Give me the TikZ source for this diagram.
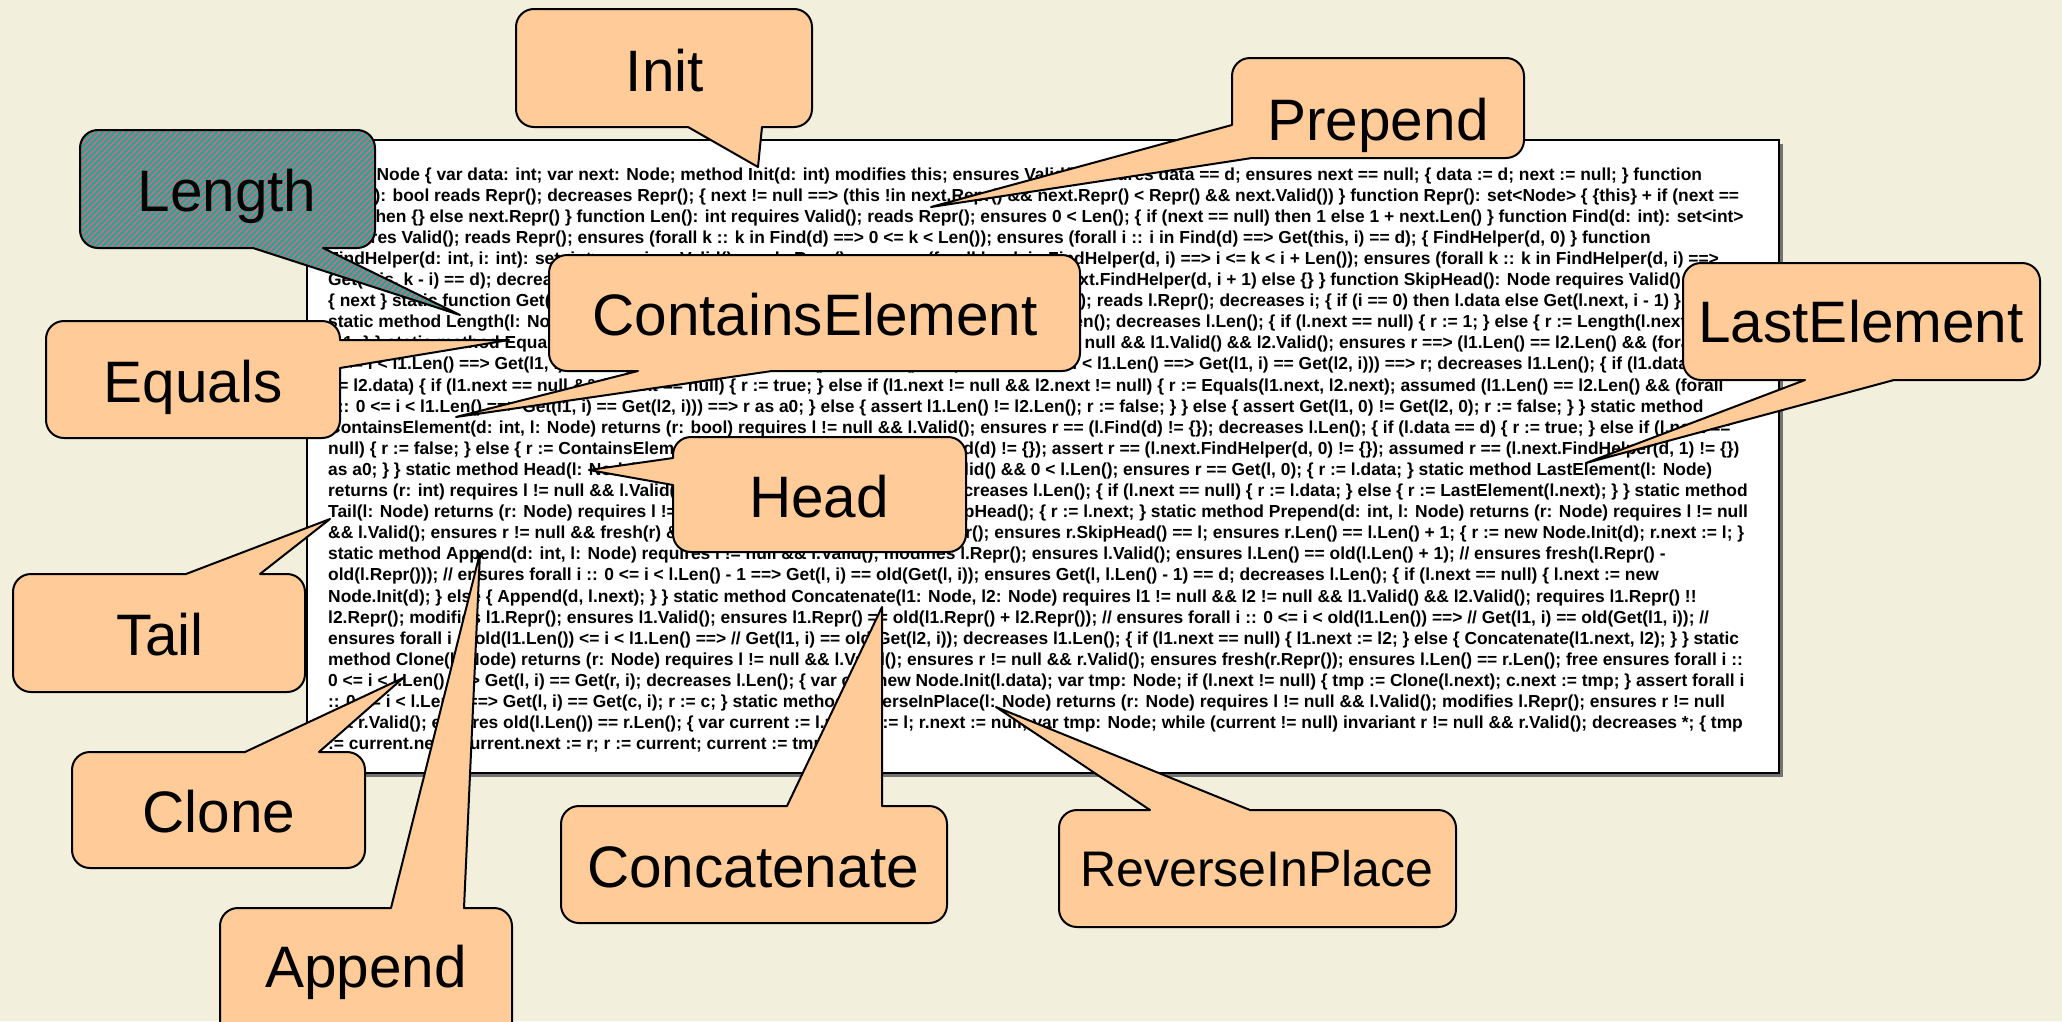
\documentclass[tikz,border=0pt]{standalone}
\usepackage{fontspec}
\setmainfont{Liberation Sans}
\newfontfamily\codefont{Liberation Sans}[UprightFont={* Bold},BoldFont={* Bold}]
\definecolor{bgcol}{RGB}{242,240,220}
\definecolor{peach}{RGB}{255,204,153}
\definecolor{hpink}{RGB}{226,96,128}
\definecolor{hteal}{RGB}{20,175,150}
\tikzset{
  calloutshape/.style={fill=peach,draw=black,line width=2pt,line join=round},
  hatchbase/.style={fill=hteal},
  stripe/.style={draw=hpink,line width=1.6pt},
  outlineonly/.style={draw=black,line width=2pt,line join=round},
  calloutlabel/.style={anchor=base,inner sep=0pt,font=\fontsize{58.5}{60}\selectfont},
  codeline/.style={anchor=base west,inner sep=0pt,font=\fontsize{17.4}{21}\codefont}
}
% #1 style, #2 L, #3 T, #4 R, #5 B, #6 top insert, #7 right insert, #8 bottom insert, #9 left insert
\newcommand\callout[9]{%
  \path[#1] (#2+18,#3) #6 -- (#4-18,#3) .. controls (#4-8,#3) and (#4,#3+8) .. (#4,#3+18) #7
    -- (#4,#5-18) .. controls (#4,#5-8) and (#4-8,#5) .. (#4-18,#5) #8
    -- (#2+18,#5) .. controls (#2+8,#5) and (#2,#5-8) .. (#2,#5-18) #9
    -- (#2,#3+18) .. controls (#2,#3+8) and (#2+8,#3) .. (#2+18,#3) -- cycle;}
\begin{document}
\begin{tikzpicture}[x=1pt,y=-1pt]
\useasboundingbox (0,0) rectangle (2062,1021);
\fill[bgcol] (0,0) rectangle (2062,1021);
% text box
\fill[black!55] (311,144) rectangle (1783,777);
\draw[fill=white,line width=1.5pt] (307,140) rectangle (1779,773);
\node[codeline] (l1) at (328,180.0) {class Node \{ var data: int; var next: Node; method Init(d: int) modifies this; ensures Valid(); ensures data == d; ensures next == null; \{ data := d; next := null; \} function};
\node[codeline] (l2) at (328,201.1) {Valid(): bool reads Repr(); decreases Repr(); \{ next != null ==> (this !in next.Repr() \&\& next.Repr() < Repr() \&\& next.Valid()) \} function Repr(): set<Node> \{ \{this\} + if (next ==};
\node[codeline] (l3) at (328,222.2) {null) then \{\} else next.Repr() \} function Len(): int requires Valid(); reads Repr(); ensures 0 < Len(); \{ if (next == null) then 1 else 1 + next.Len() \} function Find(d: int): set<int>};
\node[codeline] (l4) at (328,243.3) {requires Valid(); reads Repr(); ensures (forall k :: k in Find(d) ==> 0 <= k < Len()); ensures (forall i :: i in Find(d) ==> Get(this, i) == d); \{ FindHelper(d, 0) \} function};
\node[codeline] (l5) at (328,264.4) {FindHelper(d: int, i: int): set<int> requires Valid(); reads Repr(); ensures (forall k :: k in FindHelper(d, i) ==> i <= k < i + Len()); ensures (forall k :: k in FindHelper(d, i) ==>};
\node[codeline] (l6) at (328,285.5) {Get(this, k - i) == d); decreases Repr(); \{ (if data == d then \{i\} else \{\}) + if next != null then next.FindHelper(d, i + 1) else \{\} \} function SkipHead(): Node requires Valid(); reads};
\node[codeline] (l7) at (328,306.6) {\{ next \} static function Get(l: Node, i: int): int requires l != null \&\& l.Valid() \&\& 0 <= i < l.Len(); reads l.Repr(); decreases i; \{ if (i == 0) then l.data else Get(l.next, i - 1) \}};
\node[codeline] (l8) at (328,327.7) {static method Length(l: Node) returns (r: int) requires l != null \&\& l.Valid(); ensures r == l.Len(); decreases l.Len(); \{ if (l.next == null) \{ r := 1; \} else \{ r := Length(l.next)};
\node[codeline] (l9) at (328,348.8) {+ 1; \} \} static method Equals(l1: Node, l2: Node) returns (r: bool) requires l1 != null \&\& l2 != null \&\& l1.Valid() \&\& l2.Valid(); ensures r ==> (l1.Len() == l2.Len() \&\& (forall i ::};
\node[codeline] (l10) at (328,369.9) {0 <= i < l1.Len() ==> Get(l1, i) == Get(l2, i))); ensures (l1.Len() == l2.Len() \&\& (forall i :: 0 <= i < l1.Len() ==> Get(l1, i) == Get(l2, i))) ==> r; decreases l1.Len(); \{ if (l1.data};
\node[codeline] (l11) at (328,391.0) {== l2.data) \{ if (l1.next == null \&\& l2.next == null) \{ r := true; \} else if (l1.next != null \&\& l2.next != null) \{ r := Equals(l1.next, l2.next); assumed (l1.Len() == l2.Len() \&\& (forall};
\node[codeline] (l12) at (328,412.1) {i :: 0 <= i < l1.Len() ==> Get(l1, i) == Get(l2, i))) ==> r as a0; \} else \{ assert l1.Len() != l2.Len(); r := false; \} \} else \{ assert Get(l1, 0) != Get(l2, 0); r := false; \} \} static method};
\node[codeline] (l13) at (328,433.2) {ContainsElement(d: int, l: Node) returns (r: bool) requires l != null \&\& l.Valid(); ensures r == (l.Find(d) != \{\}); decreases l.Len(); \{ if (l.data == d) \{ r := true; \} else if (l.next ==};
\node[codeline] (l14) at (328,454.3) {null) \{ r := false; \} else \{ r := ContainsElement(d, l.next); assert r == (l.next.Find(d) != \{\}); assert r == (l.next.FindHelper(d, 0) != \{\}); assumed r == (l.next.FindHelper(d, 1) != \{\})};
\node[codeline] (l15) at (328,475.4) {as a0; \} \} static method Head(l: Node) returns (r: int) requires l != null \&\& l.Valid() \&\& 0 < l.Len(); ensures r == Get(l, 0); \{ r := l.data; \} static method LastElement(l: Node)};
\node[codeline] (l16) at (328,496.5) {returns (r: int) requires l != null \&\& l.Valid(); ensures r == Get(l, l.Len() - 1); decreases l.Len(); \{ if (l.next == null) \{ r := l.data; \} else \{ r := LastElement(l.next); \} \} static method};
\node[codeline] (l17) at (328,517.6) {Tail(l: Node) returns (r: Node) requires l != null \&\& l.Valid(); ensures r == l.SkipHead(); \{ r := l.next; \} static method Prepend(d: int, l: Node) returns (r: Node) requires l != null};
\node[codeline] (l18) at (328,538.7) {\&\& l.Valid(); ensures r != null \&\& fresh(r) \&\& r.Valid(); ensures l.Repr() < r.Repr(); ensures r.SkipHead() == l; ensures r.Len() == l.Len() + 1; \{ r := new Node.Init(d); r.next := l; \}};
\node[codeline] (l19) at (328,559.8) {static method Append(d: int, l: Node) requires l != null \&\& l.Valid(); modifies l.Repr(); ensures l.Valid(); ensures l.Len() == old(l.Len() + 1); // ensures fresh(l.Repr() -};
\node[codeline] (l20) at (328,580.9) {old(l.Repr())); // ensures forall i :: 0 <= i < l.Len() - 1 ==> Get(l, i) == old(Get(l, i)); ensures Get(l, l.Len() - 1) == d; decreases l.Len(); \{ if (l.next == null) \{ l.next := new};
\node[codeline] (l21) at (328,602.0) {Node.Init(d); \} else \{ Append(d, l.next); \} \} static method Concatenate(l1: Node, l2: Node) requires l1 != null \&\& l2 != null \&\& l1.Valid() \&\& l2.Valid(); requires l1.Repr() !!};
\node[codeline] (l22) at (328,623.1) {l2.Repr(); modifies l1.Repr(); ensures l1.Valid(); ensures l1.Repr() == old(l1.Repr() + l2.Repr()); // ensures forall i :: 0 <= i < old(l1.Len()) ==> // Get(l1, i) == old(Get(l1, i)); //};
\node[codeline] (l23) at (328,644.2) {ensures forall i :: old(l1.Len()) <= i < l1.Len() ==> // Get(l1, i) == old(Get(l2, i)); decreases l1.Len(); \{ if (l1.next == null) \{ l1.next := l2; \} else \{ Concatenate(l1.next, l2); \} \} static};
\node[codeline] (l24) at (328,665.3) {method Clone(l: Node) returns (r: Node) requires l != null \&\& l.Valid(); ensures r != null \&\& r.Valid(); ensures fresh(r.Repr()); ensures l.Len() == r.Len(); free ensures forall i ::};
\node[codeline] (l25) at (328,686.4) {0 <= i < l.Len() ==> Get(l, i) == Get(r, i); decreases l.Len(); \{ var c := new Node.Init(l.data); var tmp: Node; if (l.next != null) \{ tmp := Clone(l.next); c.next := tmp; \} assert forall i};
\node[codeline] (l26) at (328,707.5) {:: 0 <= i < l.Len() ==> Get(l, i) == Get(c, i); r := c; \} static method ReverseInPlace(l: Node) returns (r: Node) requires l != null \&\& l.Valid(); modifies l.Repr(); ensures r != null};
\node[codeline] (l27) at (328,728.6) {\&\& r.Valid(); ensures old(l.Len()) == r.Len(); \{ var current := l.next; r := l; r.next := null; var tmp: Node; while (current != null) invariant r != null \&\& r.Valid(); decreases *; \{ tmp};
\node[codeline] (l28) at (328,749.7) {:= current.next; current.next := r; r := current; current := tmp; \} \} \}};
% ---------- callouts ----------
% Init
\callout{calloutshape}{516}{9}{812}{127}{}{}{-- (762,127) -- (758,167) -- (688,127)}{}
\node[calloutlabel] (tInit) at (665,91) {Init};
% Prepend
\draw[calloutshape] (1250,58) -- (1506,58) .. controls (1516,58) and (1524,66) .. (1524,76) -- (1524,140) .. controls (1524,150) and (1516,158) .. (1506,158) -- (1252,158) -- (931,207) -- (1232,125) -- (1232,76) .. controls (1232,66) and (1240,58) .. (1250,58) -- cycle;
\node[calloutlabel] (tPrepend) at (1378,140) {Prepend};
% Length (hatched)
\callout{hatchbase}{80}{130}{375}{248}{}{}{-- (323,248) -- (460,315) -- (253,248)}{}
\begin{scope}
\callout{clip}{80}{130}{375}{248}{}{}{-- (323,248) -- (460,315) -- (253,248)}{}
\foreach \k in {0,...,115} {\draw[stripe] (-150+6*\k,340) -- (100+6*\k,90);}
\end{scope}
\callout{outlineonly}{80}{130}{375}{248}{}{}{-- (323,248) -- (460,315) -- (253,248)}{}
\node[calloutlabel] (tLength) at (227,211) {Length};
% ContainsElement
\callout{calloutshape}{549}{255}{1080}{371}{}{}{-- (772,371) -- (456,417) -- (638,371)}{}
\node[calloutlabel] (tContains) at (815,335) {ContainsElement};
% Equals
\callout{calloutshape}{46}{321}{340}{438}{}{-- (340,340) -- (509,340) -- (340,368)}{}{}
\node[calloutlabel] (tEquals) at (193,402) {Equals};
% Head
\callout{calloutshape}{673}{437}{966}{552}{}{}{}{-- (673,485) -- (589,470) -- (673,458)}
\node[calloutlabel] (tHead) at (819,517) {Head};
% LastElement
\callout{calloutshape}{1683}{263}{2040}{380}{}{}{-- (1894,380) -- (1586,463) -- (1805,380)}{}
\node[calloutlabel] (tLast) at (1861,342) {LastElement};
% Tail
\callout{calloutshape}{13}{574}{305}{692}{-- (186,574) -- (330,519) -- (260,574)}{}{}{}
\node[calloutlabel] (tTail) at (160,655) {Tail};
% Clone
\callout{calloutshape}{72}{752}{365}{868}{-- (245,752) -- (403,678) -- (319,752)}{}{}{}
\node[calloutlabel] (tClone) at (219,832) {Clone};
% Append
\callout{calloutshape}{220}{908}{512}{1045}{-- (391,908) -- (480,553) -- (464,908)}{}{}{}
\node[calloutlabel] (tAppend) at (366,987) {Append};
% Concatenate
\callout{calloutshape}{561}{806}{947}{923}{-- (787,806) -- (882,607) -- (882,806)}{}{}{}
\node[calloutlabel] (tConcat) at (753,887) {Concatenate};
% ReverseInPlace
\callout{calloutshape}{1059}{810}{1456}{927}{-- (1150,810) -- (996,707) -- (1250,810)}{}{}{}
\node[calloutlabel,font=\fontsize{50}{52}\selectfont] (tReverse) at (1257,886) {ReverseInPlace};
\end{tikzpicture}
\end{document}
